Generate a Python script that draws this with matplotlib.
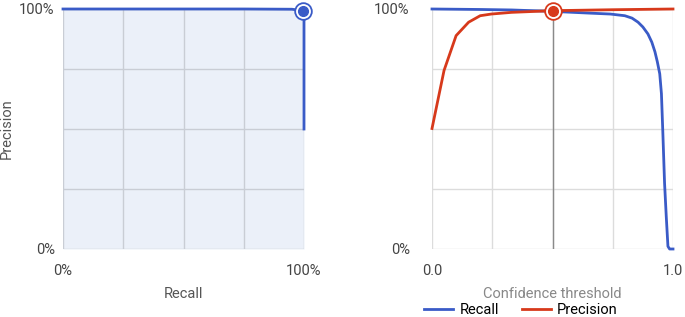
import numpy as np
import matplotlib.pyplot as plt

plt.rcParams['font.family'] = ['Roboto', 'DejaVu Sans']

# precision-recall curve (left panel)
pr_recall = [0.0, 0.25, 0.5, 0.75, 0.95, 0.996, 1.0, 1.0]
pr_precision = [1.0, 1.0, 1.0, 1.0, 0.999, 0.993, 0.99, 0.5]
pr_point = (0.996, 0.993)

# metrics vs confidence threshold (right panel)
thr_recall = [0.0, 0.1, 0.2, 0.33, 0.5, 0.65, 0.74, 0.8, 0.83, 0.855, 0.875,
              0.896, 0.912, 0.925, 0.935, 0.945, 0.952, 0.958, 0.965, 0.972,
              0.979, 0.986, 1.0]
recall = [1.0, 0.999, 0.998, 0.996, 0.99, 0.983, 0.979, 0.972, 0.962, 0.945,
          0.925, 0.896, 0.862, 0.822, 0.78, 0.73, 0.647, 0.481, 0.274, 0.136,
          0.011, 0.0, 0.0]
thr_prec = [0.0, 0.05, 0.10, 0.152, 0.20, 0.246, 0.33, 0.5, 0.75, 1.0]
precision = [0.502, 0.744, 0.889, 0.945, 0.972, 0.979, 0.986, 0.993, 0.997, 1.0]
threshold = 0.5
thr_point = 0.992

blue = '#3a5bc7'
red = '#d7391b'
ticks = [0, 0.25, 0.5, 0.75, 1.0]

fig = plt.figure(figsize=(6.85, 3.17), dpi=100)
ax1 = fig.add_axes([63/685, 1-249/317, 241/685, 240/317])
ax2 = fig.add_axes([432/685, 1-249/317, 241/685, 240/317])

# left: PR curve
ax1.fill_between(pr_recall, pr_precision, 0, color='#ebf0f9', lw=0, zorder=0)
ax1.plot(pr_recall, pr_precision, color=blue, lw=2, zorder=3, clip_on=False)
ax1.plot(*pr_point, 'o', ms=12, mfc='white', mec=blue, mew=1.3, zorder=4, clip_on=False)
ax1.plot(*pr_point, 'o', ms=7, mfc=blue, mec=blue, zorder=5, clip_on=False)
ax1.set_xticks(ticks)
ax1.set_yticks(ticks)
ax1.set_xticklabels(['0%', '', '', '', '100%'])
ax1.set_yticklabels(['0%', '', '', '', '100%'])
ax1.grid(True, color='#c9cdd5', lw=1)
ax1.tick_params(length=0, labelsize=10.5, labelcolor='#444444')
ax1.tick_params(axis='x', pad=11)
ax1.tick_params(axis='y', pad=6)
ax1.set_xlabel('Recall', fontsize=10.5, color='#555555', labelpad=6)
ax1.set_ylabel('Precision', fontsize=10.5, color='#555555')
ax1.yaxis.set_label_coords(-49/241, 0.5)

# right: recall / precision vs threshold
ax2.axvline(threshold, color='#8a8a8a', lw=1, zorder=2)
l1, = ax2.plot(thr_recall, recall, color=blue, lw=2, zorder=3, clip_on=False, label='Recall')
l2, = ax2.plot(thr_prec, precision, color=red, lw=2, zorder=3, clip_on=False, label='Precision')
ax2.plot(threshold, thr_point, 'o', ms=12, mfc='white', mec=red, mew=1.3, zorder=4, clip_on=False)
ax2.plot(threshold, thr_point, 'o', ms=7, mfc=red, mec=red, zorder=5, clip_on=False)
ax2.set_xticks(ticks)
ax2.set_yticks(ticks)
ax2.set_xticklabels(['0.0', '', '', '', '1.0'])
ax2.set_yticklabels(['0%', '', '', '', '100%'])
ax2.grid(True, color='#dcdcdc', lw=1)
ax2.tick_params(length=0, labelsize=10.5, labelcolor='#444444')
ax2.tick_params(axis='x', pad=11)
ax2.tick_params(axis='y', pad=16)
ax2.set_xlabel('Confidence threshold', fontsize=10.5, color='#888888', labelpad=6)

for ax in (ax1, ax2):
    ax.set_xlim(0, 1)
    ax.set_ylim(0, 1)
    for s in ax.spines.values():
        s.set_visible(False)

fig.legend(handles=[l1, l2], loc='center', bbox_to_anchor=(521/685, 1-310/317),
           ncol=2, frameon=False, fontsize=10.5, handlelength=2.0,
           handletextpad=0.4, columnspacing=1.6, borderpad=0)

fig.savefig('out.png', dpi=100)
